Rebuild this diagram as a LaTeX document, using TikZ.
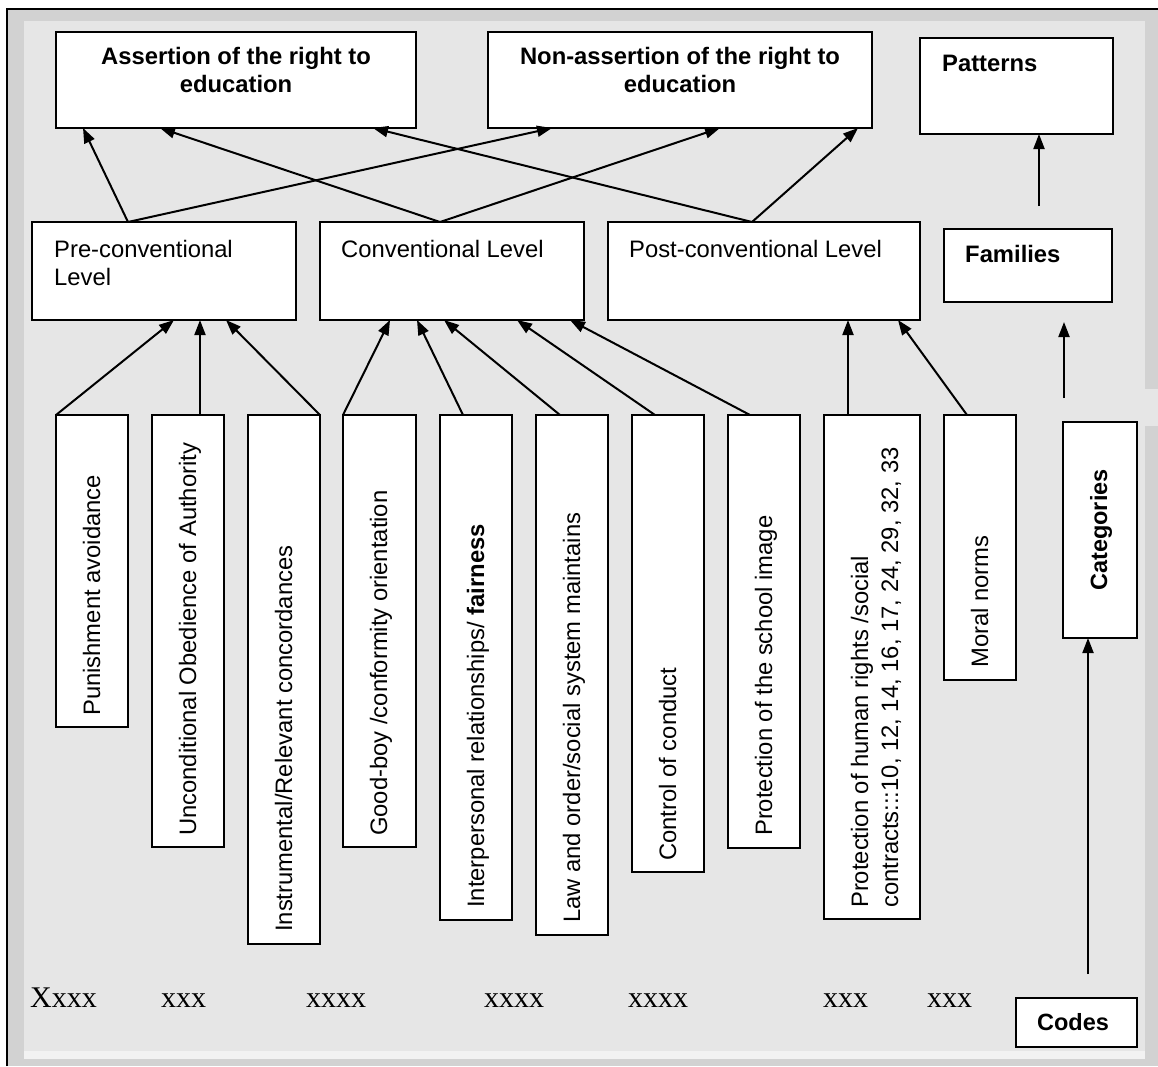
\documentclass[tikz,border=0pt]{standalone}
\usepackage{fontspec}
\setmainfont{Liberation Sans}
\newfontfamily\codefont{Liberation Serif}
\usetikzlibrary{arrows.meta,calc}

\definecolor{panel}{HTML}{E6E6E6}
\definecolor{band}{HTML}{D2D2D2}
\definecolor{strip}{HTML}{F2F2F2}

\begin{document}
\begin{tikzpicture}[x=1pt,y=-1pt,
  box/.style={draw=black,line width=2.2pt,fill=white,inner sep=0pt,outer sep=0pt,rectangle,anchor=north west},
  lbl/.style={inner sep=0pt,anchor=base west,font=\fontsize{23.8}{28}\selectfont},
  blbl/.style={inner sep=0pt,anchor=base west,font=\fontsize{23.8}{28}\selectfont\bfseries},
  vlbl/.style={inner sep=0pt,anchor=base west,rotate=90,font=\fontsize{23.8}{28}\selectfont},
  arr/.style={line width=2pt,-{Triangle[length=15pt,width=11pt]}},
  code/.style={inner sep=0pt,anchor=base west,font=\fontsize{30}{34}\codefont},
]
% page and frame
\useasboundingbox (0,0) rectangle (1158,1066);
\fill[white] (0,0) rectangle (1158,1066);
\fill[band] (7,9) rectangle (1158,1066);
\fill[panel] (24,21) rectangle (1145,1051);
\fill[strip] (24,1051) rectangle (1145,1059);
\fill[panel] (1145,389) rectangle (1158,426);
\draw[line width=2pt] (7,1066) -- (7,9) -- (1158,9);

% top row
\node[box,minimum width=360pt,minimum height=96pt] (assert) at (56,32) {};
\node[blbl,anchor=base] (assertA) at (236,64) {Assertion of the right to};
\node[blbl,anchor=base] (assertB) at (236,92) {education};
\node[box,minimum width=384pt,minimum height=96pt] (nonassert) at (488,32) {};
\node[blbl,anchor=base] (nonassertA) at (680,64) {Non-assertion of the right to};
\node[blbl,anchor=base] (nonassertB) at (680,92) {education};
\node[box,minimum width=193pt,minimum height=96pt] (patterns) at (920,38) {};
\node[blbl] (patternsT) at (942,71) {Patterns};

% levels
\node[box,minimum width=264pt,minimum height=98pt] (pre) at (32,222) {};
\node[lbl] (preA) at (54,257) {Pre-conventional};
\node[lbl] (preB) at (54,285) {Level};
\node[box,minimum width=264pt,minimum height=98pt] (conv) at (320,222) {};
\node[lbl] (convT) at (341,257) {Conventional Level};
\node[box,minimum width=312pt,minimum height=98pt] (post) at (608,222) {};
\node[lbl] (postT) at (629,257) {Post-conventional Level};
\node[box,minimum width=168pt,minimum height=73pt] (families) at (944,229) {};
\node[blbl] (familiesT) at (965,262) {Families};

% categories
\node[box,minimum width=72pt,minimum height=312pt] (pun) at (56,415) {};
\node[vlbl] (punT) at (100,716) {Punishment avoidance};
\node[box,minimum width=72pt,minimum height=432pt] (unc) at (152,415) {};
\node[vlbl] (uncT) at (196,836) {Unconditional Obedience of Authority};
\node[box,minimum width=72pt,minimum height=529pt] (ins) at (248,415) {};
\node[vlbl] (insT) at (292,932) {Instrumental/Relevant concordances};
\node[box,minimum width=73pt,minimum height=432pt] (good) at (343,415) {};
\node[vlbl] (goodT) at (387,836) {Good-boy /conformity orientation};
\node[box,minimum width=72pt,minimum height=505pt] (inter) at (440,415) {};
\node[vlbl] (interT) at (484,908) {Interpersonal relationships/ \textbf{fairness}};
\node[box,minimum width=72pt,minimum height=520pt] (law) at (536,415) {};
\node[vlbl] (lawT) at (580,923) {Law and order/social system maintains};
\node[box,minimum width=72pt,minimum height=457pt] (ctrl) at (632,415) {};
\node[vlbl] (ctrlT) at (676,861) {Control of conduct};
\node[box,minimum width=72pt,minimum height=433pt] (school) at (728,415) {};
\node[vlbl] (schoolT) at (772,836) {Protection of the school image};
\node[box,minimum width=96pt,minimum height=504pt] (rights) at (824,415) {};
\node[vlbl] (rightsA) at (868,908) {Protection of human rights /social};
\node[vlbl] (rightsB) at (898,908) {contracts:::10, 12, 14, 16, 17, 24, 29, 32, 33};
\node[box,minimum width=72pt,minimum height=265pt] (moral) at (944,415) {};
\node[vlbl] (moralT) at (988,668) {Moral norms};
\node[box,minimum width=74pt,minimum height=216pt] (categories) at (1063,422) {};
\node[vlbl,anchor=base,font=\fontsize{23.5}{27}\selectfont\bfseries] (categoriesT) at (1107,530) {Categories};

% codes
\node[box,minimum width=121pt,minimum height=49pt] (codes) at (1016,998) {};
\node[blbl,anchor=base,font=\fontsize{23.5}{27}\selectfont\bfseries] (codesT) at (1073,1030) {Codes};
\node[code] (x1) at (30,1007) {Xxxx};
\node[code] (x2) at (161,1007) {xxx};
\node[code] (x3) at (306,1007) {xxxx};
\node[code] (x4) at (484,1007) {xxxx};
\node[code] (x5) at (628,1007) {xxxx};
\node[code] (x6) at (823,1007) {xxx};
\node[code] (x7) at (927,1007) {xxx};

% categories -> levels
\draw[arr] (pun.north west) -- ([xshift=142pt]pre.south west);
\draw[arr] ([xshift=48pt]unc.north west) -- ([xshift=168pt]pre.south west);
\draw[arr] (ins.north east) -- ([xshift=194pt]pre.south west);
\draw[arr] (good.north west) -- ([xshift=70pt]conv.south west);
\draw[arr] ([xshift=23pt]inter.north west) -- ([xshift=97pt]conv.south west);
\draw[arr] ([xshift=24pt]law.north west) -- ([xshift=124pt]conv.south west);
\draw[arr] ([xshift=23pt]ctrl.north west) -- ([xshift=197pt]conv.south west);
\draw[arr] ([xshift=22pt]school.north west) -- ([xshift=250pt]conv.south west);
\draw[arr] ([xshift=24pt]rights.north west) -- ([xshift=240pt]post.south west);
\draw[arr] ([xshift=23pt]moral.north west) -- ([xshift=290pt]post.south west);

% levels -> outcomes
\draw[arr] ([xshift=96pt]pre.north west) -- ([xshift=27pt]assert.south west);
\draw[arr] ([xshift=96pt]pre.north west) -- ([xshift=64pt]nonassert.south west);
\draw[arr] ([xshift=120pt]conv.north west) -- ([xshift=104pt]assert.south west);
\draw[arr] ([xshift=120pt]conv.north west) -- ([xshift=232pt]nonassert.south west);
\draw[arr] ([xshift=144pt]post.north west) -- ([xshift=317pt]assert.south west);
\draw[arr] ([xshift=144pt]post.north west) -- ([xshift=370pt]nonassert.south west);

% legend column
\coordinate (famtail) at (1039,206);
\draw[arr] (famtail) -- ([xshift=119pt]patterns.south west);
\coordinate (cattail) at (1064,398);
\coordinate (cathead) at (1064,322);
\draw[arr] (cattail) -- (cathead);
\coordinate (codetail) at (1088,974);
\draw[arr] (codetail) -- ([xshift=25pt]categories.south west);
\end{tikzpicture}
\end{document}
